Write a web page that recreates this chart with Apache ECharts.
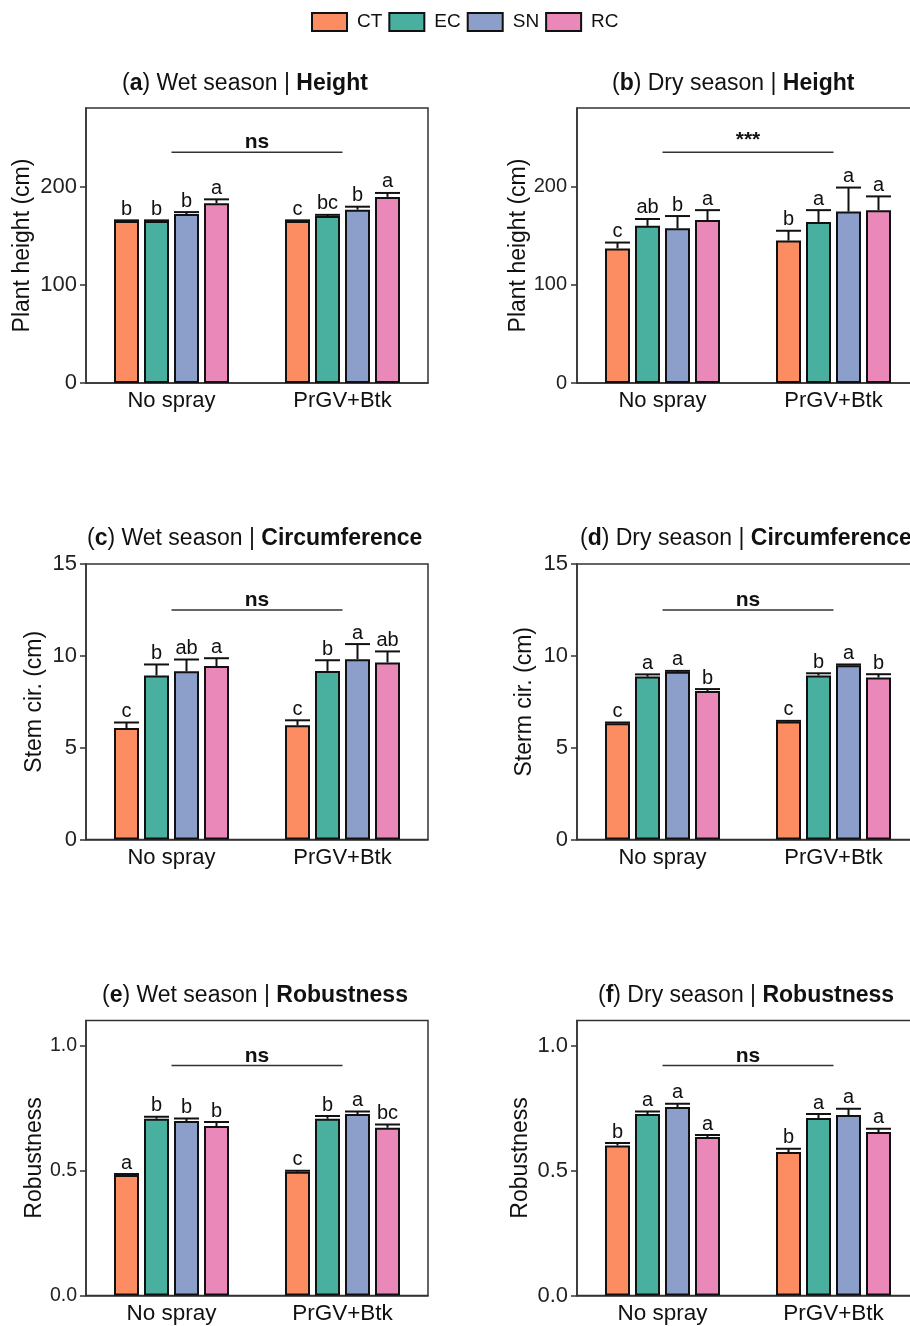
<!DOCTYPE html>
<html><head><meta charset="utf-8">
<script src="https://cdn.jsdelivr.net/npm/echarts@6/dist/echarts.min.js"></script>
<style>html,body{margin:0;padding:0;background:#fff}#c{width:910px;height:1326px}</style>
</head><body><div id="c"></div>
<script>
// ---------------- DATA ----------------
const categories = ['No spray', 'PrGV+Btk'];
const treatments = ['CT', 'EC', 'SN', 'RC'];

// rows: CT, EC, SN, RC ; columns: No spray, PrGV+Btk
const heightWetMean = [[165, 165], [165, 170], [172, 176.5], [183, 189.5]];
const heightWetErr = [[0.6, 0.6], [0.6, 1.2], [2, 3], [4, 4]];
const heightWetLetters = [['b', 'c'], ['b', 'bc'], ['b', 'b'], ['a', 'a']];

const heightDryMean = [[137, 145], [160, 164], [157.5, 174.5], [166, 176]];
const heightDryErr = [[6, 10], [7, 12], [12.5, 24.5], [10, 14]];
const heightDryLetters = [['c', 'b'], ['ab', 'a'], ['b', 'a'], ['a', 'a']];

const circWetMean = [[6.07, 6.22], [8.93, 9.18], [9.16, 9.82], [9.44, 9.64]];
const circWetErr = [[0.3, 0.27], [0.6, 0.58], [0.64, 0.82], [0.43, 0.6]];
const circWetLetters = [['c', 'c'], ['b', 'b'], ['ab', 'a'], ['a', 'ab']];

const circDryMean = [[6.33, 6.42], [8.87, 8.93], [9.13, 9.49], [8.09, 8.82]];
const circDryErr = [[0.04, 0.04], [0.12, 0.12], [0.05, 0.04], [0.1, 0.18]];
const circDryLetters = [['c', 'c'], ['a', 'b'], ['a', 'a'], ['b', 'b']];

const robWetMean = [[0.482, 0.495], [0.707, 0.707], [0.698, 0.726], [0.678, 0.671]];
const robWetErr = [[0.004, 0.004], [0.008, 0.011], [0.01, 0.01], [0.016, 0.013]];
const robWetLetters = [['a', 'c'], ['b', 'b'], ['b', 'a'], ['b', 'bc']];

const robDryMean = [[0.600, 0.574], [0.726, 0.710], [0.754, 0.722], [0.634, 0.654]];
const robDryErr = [[0.01, 0.013], [0.01, 0.016], [0.013, 0.025], [0.008, 0.013]];
const robDryLetters = [['b', 'b'], ['a', 'a'], ['a', 'a'], ['a', 'a']];

const heightTicks = [0, 100, 200];
const circTicks = [0, 5, 10, 15];
const robTicks = [0, 0.5, 1.0];

const sigLabels = ['ns', '***', 'ns', 'ns', 'ns', 'ns'];
const sigLevels = [235, 235, 12.5, 12.5, 0.92, 0.92];

const panelLetters = ['a', 'b', 'c', 'd', 'e', 'f'];
const panelSeasons = ['Wet season', 'Dry season', 'Wet season', 'Dry season', 'Wet season', 'Dry season'];
const panelTraits = ['Height', 'Height', 'Circumference', 'Circumference', 'Robustness', 'Robustness'];
const yNames = ['Plant height (cm)', 'Plant height (cm)', 'Stem cir. (cm)', 'Sterm cir. (cm)', 'Robustness', 'Robustness'];

// ---------------- STYLE / LAYOUT ----------------
const FONT = "'Liberation Sans', Arial, Helvetica, sans-serif";
const colors = ['#FC8D62', '#49B09F', '#8C9FCA', '#EB88BA'];
const BAR_W = 25, BAR_STEP = 30;

const panels = [
  { mean: heightWetMean, err: heightWetErr, letters: heightWetLetters, ticks: heightTicks, max: 280, fmt: v => String(v),
    left: 86, top: 108, h: 275, titleLeft: 122, titleTop: 72, nameGap: 52, tickSize: 22, labelMargin: 9 },
  { mean: heightDryMean, err: heightDryErr, letters: heightDryLetters, ticks: heightTicks, max: 280, fmt: v => String(v),
    left: 577, top: 108, h: 275, titleLeft: 612, titleTop: 72, nameGap: 46, tickSize: 20, labelMargin: 10 },
  { mean: circWetMean, err: circWetErr, letters: circWetLetters, ticks: circTicks, max: 15, fmt: v => String(v),
    left: 86, top: 564, h: 275.5, titleLeft: 87, titleTop: 527, nameGap: 40, tickSize: 22, labelMargin: 9 },
  { mean: circDryMean, err: circDryErr, letters: circDryLetters, ticks: circTicks, max: 15, fmt: v => String(v),
    left: 577, top: 564, h: 275.5, titleLeft: 580, titleTop: 527, nameGap: 41, tickSize: 22, labelMargin: 9 },
  { mean: robWetMean, err: robWetErr, letters: robWetLetters, ticks: robTicks, max: 1.1, fmt: v => v.toFixed(1),
    left: 86, top: 1020.5, h: 275, titleLeft: 102, titleTop: 984, nameGap: 39, tickSize: 19.5, labelMargin: 9 },
  { mean: robDryMean, err: robDryErr, letters: robDryLetters, ticks: robTicks, max: 1.1, fmt: v => v.toFixed(1),
    left: 577, top: 1020.5, h: 275, titleLeft: 598, titleTop: 984, nameGap: 45, tickSize: 22, labelMargin: 9 }
];

const grids = [], xAxes = [], yAxes = [], series = [], titles = [];

panels.forEach((p, pi) => {
  grids.push({ left: p.left, top: p.top, width: 342, height: p.h, show: true, borderColor: '#333', borderWidth: 1.5,
    containLabel: false, outerBoundsMode: 'none' });
  xAxes.push({
    type: 'category', gridIndex: pi, data: categories,
    axisLine: { show: true, lineStyle: { color: '#333', width: 1.5 } },
    axisTick: { show: false },
    axisLabel: { fontSize: pi >= 4 ? 22.5 : 22, color: '#111', fontFamily: FONT, margin: 7 }
  });
  yAxes.push({
    type: 'value', gridIndex: pi, min: 0, max: p.max,
    name: yNames[pi], nameLocation: 'middle', nameGap: p.nameGap,
    nameTextStyle: { fontSize: 23, color: '#111', fontFamily: FONT },
    axisLine: { show: true, lineStyle: { color: '#333', width: 1.5 } },
    axisTick: { show: true, length: 6, customValues: p.ticks, lineStyle: { color: '#333', width: 1.5 } },
    axisLabel: { customValues: p.ticks, formatter: p.fmt, fontSize: p.tickSize, color: '#222', fontFamily: FONT, margin: p.labelMargin },
    splitLine: { show: false }
  });
  titles.push({
    text: '({b|' + panelLetters[pi] + '}) ' + panelSeasons[pi] + ' | {b|' + panelTraits[pi] + '}',
    left: p.titleLeft, top: p.titleTop, padding: 0,
    textStyle: { fontSize: 23, fontWeight: 'normal', color: '#111', fontFamily: FONT,
      rich: { b: { fontSize: 23, fontWeight: 'bold', color: '#111', fontFamily: FONT } } }
  });

  treatments.forEach((t, ti) => {
    series.push({
      type: 'bar', name: t, xAxisIndex: pi, yAxisIndex: pi,
      data: p.mean[ti], barWidth: BAR_W, barGap: '20%',
      itemStyle: { color: colors[ti], borderColor: '#111', borderWidth: 2 },
      emphasis: { disabled: true }, z: 2
    });
  });

  // error bars + letters
  const errData = [];
  const letterList = [];
  treatments.forEach((t, ti) => {
    categories.forEach((c, ci) => {
      errData.push([ci, ti, p.mean[ti][ci], p.err[ti][ci]]);
      letterList.push(p.letters[ti][ci]);
    });
  });
  series.push({
    type: 'custom', xAxisIndex: pi, yAxisIndex: pi, z: 5, silent: true,
    encode: { x: 0, y: 2 },
    data: errData,
    renderItem: (params, api) => {
      const ci = api.value(0), ti = api.value(1), m = api.value(2), e = api.value(3);
      const b = api.coord([ci, m]);
      const tp = api.coord([ci, m + e]);
      const x = b[0] + (ti - 1.5) * BAR_STEP;
      const capY = tp[1];
      return {
        type: 'group', children: [
          { type: 'line', shape: { x1: x, y1: b[1], x2: x, y2: capY }, style: { stroke: '#111', lineWidth: 2 } },
          { type: 'line', shape: { x1: x - BAR_W / 2, y1: capY, x2: x + BAR_W / 2, y2: capY }, style: { stroke: '#111', lineWidth: 2 } },
          { type: 'text', style: { text: letterList[params.dataIndex], x: x, y: capY - 1, align: 'center', verticalAlign: 'bottom',
              font: '20px ' + FONT, fill: '#111' } }
        ]
      };
    }
  });

  // significance bar between groups
  series.push({
    type: 'custom', xAxisIndex: pi, yAxisIndex: pi, z: 5, silent: true,
    encode: { x: 0, y: 1 },
    data: [[0, sigLevels[pi]]],
    renderItem: (params, api) => {
      const a = api.coord([0, api.value(1)]);
      const b = api.coord([1, api.value(1)]);
      const isStar = sigLabels[pi].indexOf('*') >= 0;
      return {
        type: 'group', children: [
          { type: 'line', shape: { x1: a[0], y1: a[1], x2: b[0], y2: b[1] }, style: { stroke: '#333', lineWidth: 1.5 } },
          { type: 'text', style: { text: sigLabels[pi], x: (a[0] + b[0]) / 2, y: a[1] + (isStar ? -1 : 1), align: 'center', verticalAlign: 'bottom',
              font: 'bold 21px ' + FONT, fill: '#111' } }
        ]
      };
    }
  });
});

const chart = echarts.init(document.getElementById('c'), null, { renderer: 'canvas' });
chart.setOption({
  animation: false,
  backgroundColor: '#fff',
  title: titles,
  legend: {
    data: treatments, left: 306, top: 7, itemWidth: 35, itemHeight: 18, itemGap: 6, icon: 'rect',
    textStyle: { fontSize: 19, color: '#111', fontFamily: FONT, padding: [0, 0, 0, 5] },
    selectedMode: false
  },
  grid: grids, xAxis: xAxes, yAxis: yAxes, series: series
});
</script></body></html>
